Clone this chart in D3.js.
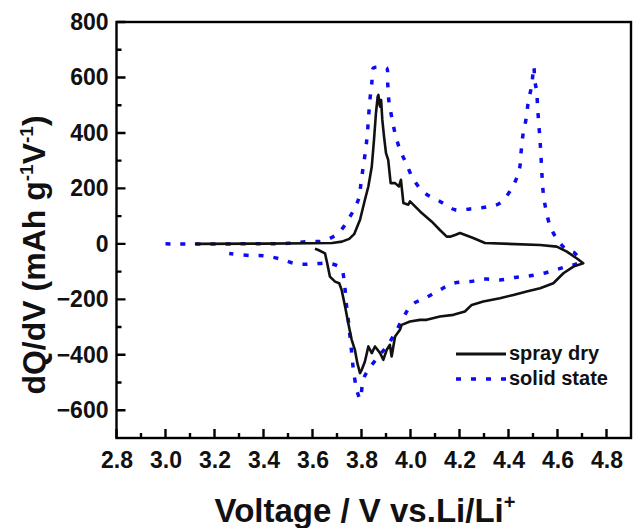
<!DOCTYPE html>
<html>
<head>
<meta charset="utf-8">
<script src="https://cdn.jsdelivr.net/npm/d3@7"></script>
<style>
  html, body { margin: 0; padding: 0; background: #fff; }
  svg text { font-family: "Liberation Sans", Arial, sans-serif; font-weight: bold; fill: #111; }
</style>
</head>
<body>
<svg id="chart" width="636" height="528"></svg>
<script>
// dQ/dV curves: spray dry vs solid state

const xTickValues = [2.8, 3.0, 3.2, 3.4, 3.6, 3.8, 4.0, 4.2, 4.4, 4.6, 4.8];
const yTickValues = [-600, -400, -200, 0, 200, 400, 600, 800];
const xMinorTicks = [2.9, 3.1, 3.3, 3.5, 3.7, 3.9, 4.1, 4.3, 4.5, 4.7];
const yMinorTicks = [-500, -300, -100, 100, 300, 500, 700];

// spray dry: charge (up to 4.7 V) then discharge back
const sprayVoltage = [3.12, 3.40, 3.60, 3.68, 3.72, 3.75, 3.77, 3.794, 3.814, 3.828, 3.842, 3.851, 3.859, 3.866, 3.869,
  3.873, 3.876, 3.880, 3.885, 3.892, 3.900, 3.909, 3.919, 3.937, 3.953, 3.961, 3.971, 3.991, 3.998, 4.039,
  4.087, 4.120, 4.148, 4.161, 4.182, 4.202, 4.256, 4.304, 4.529, 4.597, 4.638, 4.678, 4.705,
  4.665, 4.624, 4.583, 4.529, 4.474, 4.420, 4.365, 4.297, 4.250, 4.222, 4.175, 4.120, 4.066, 4.039,
  3.998, 3.964, 3.957, 3.937, 3.930, 3.923, 3.916, 3.903, 3.889, 3.876, 3.855, 3.842, 3.828, 3.814,
  3.801, 3.794, 3.783, 3.773, 3.760, 3.746, 3.733, 3.719, 3.709, 3.692, 3.671, 3.660, 3.651, 3.624, 3.610];
const sprayDqdv = [0, 1, 2, 3, 8, 18, 35, 87, 159, 207, 279, 375, 471, 531, 537,
  505, 495, 519, 447, 387, 327, 303, 219, 219, 207, 231, 147, 141, 153, 117,
  80, 50, 26, 26, 32, 39, 21, 3, -4, -10, -28, -52, -70,
  -82, -106, -142, -160, -172, -184, -196, -208, -220, -244, -256, -262, -274, -274,
  -280, -292, -310, -334, -370, -406, -364, -382, -418, -394, -370, -394, -370, -424,
  -454, -466, -430, -382, -346, -286, -226, -166, -142, -136, -118, -70, -34, -22, -18];

// solid state: charge (up to 4.69 V) then discharge back
const solidVoltage = [3.00, 3.30, 3.50, 3.578, 3.644, 3.705, 3.753, 3.787, 3.798, 3.807, 3.817, 3.824, 3.829,
  3.835, 3.842, 3.848, 3.862, 3.876, 3.890, 3.903, 3.907, 3.912, 3.923, 3.937, 3.957, 3.982, 4.013,
  4.059, 4.120, 4.182, 4.243, 4.304, 4.365, 4.417, 4.444, 4.451, 4.458, 4.471, 4.481, 4.495, 4.503,
  4.508, 4.515, 4.519, 4.524, 4.529, 4.533, 4.537, 4.542, 4.553, 4.573, 4.610, 4.638, 4.671, 4.690,
  4.624, 4.556, 4.488, 4.427, 4.365, 4.304, 4.243, 4.175, 4.120, 4.059, 4.005, 3.971, 3.937, 3.903,
  3.869, 3.828, 3.807, 3.795, 3.785, 3.778, 3.767, 3.760, 3.753, 3.746, 3.737, 3.730, 3.716, 3.665,
  3.597, 3.533, 3.470, 3.402, 3.342, 3.260];
const solidDqdv = [0, 0, 2, 8, 11, 39, 98, 159, 219, 279, 339, 399, 459,
  525, 579, 634, 637, 637, 637, 634, 579, 513, 459, 399, 339, 291, 231,
  183, 153, 123, 126, 132, 147, 207, 267, 327, 387, 447, 513, 573, 640,
  585, 549, 489, 429, 369, 309, 243, 183, 123, 57, 3, -22, -34, -64,
  -85, -103, -115, -121, -130, -127, -136, -142, -166, -196, -220, -265, -322, -370,
  -406, -454, -490, -560, -540, -515, -454, -394, -334, -274, -208, -142, -88, -70,
  -73, -72, -55, -43, -42, -35];

const legendLabels = ['spray dry', 'solid state'];

const BLUE = '#0c0cf0';
const INK = '#000';

const svg = d3.select('#chart');
const plotLeft = 116.5, plotRight = 631, plotTop = 22, plotBottom = 438;

const x = d3.scaleLinear().domain([2.8, 4.9]).range([plotLeft, plotRight]);
const y = d3.scaleLinear().domain([-700, 800]).range([plotBottom, plotTop]);

// Curves
const toPoints = (xs, ys) => xs.map((v, i) => [v, ys[i]]);

const line = d3.line()
    .x(d => x(d[0]))
    .y(d => y(d[1]));

svg.append('path')
    .datum(toPoints(solidVoltage, solidDqdv))
    .attr('d', line.curve(d3.curveCatmullRom.alpha(0.5)))
    .attr('fill', 'none')
    .attr('stroke', BLUE)
    .attr('stroke-width', 3.5)
    .attr('stroke-dasharray', '5,10');

svg.append('path')
    .datum(toPoints(sprayVoltage, sprayDqdv))
    .attr('d', line.curve(d3.curveLinear))
    .attr('fill', 'none')
    .attr('stroke', '#111')
    .attr('stroke-width', 2.6)
    .attr('stroke-linejoin', 'round');

// Axes: labels from d3 axes, inward ticks drawn as one path
const xAxis = svg.append('g').attr('transform', `translate(0,${plotBottom})`);
xAxis.call(d3.axisBottom(x).tickValues(xTickValues).tickSize(0).tickFormat(d3.format('.1f')))
    .call(g => g.select('.domain').remove());
xAxis.selectAll('.tick text').attr('font-size', 23).attr('y', 30).attr('dy', null);

const yAxis = svg.append('g').attr('transform', `translate(${plotLeft},0)`);
yAxis.call(d3.axisLeft(y).tickValues(yTickValues).tickSize(0))
    .call(g => g.select('.domain').remove());
yAxis.selectAll('.tick text').attr('font-size', 23).attr('x', -8);

svg.selectAll('.tick text')
    .attr('font-family', '"Liberation Sans", Arial, sans-serif')
    .attr('font-weight', 'bold')
    .attr('fill', '#111');

const tickPath = d3.path();
xTickValues.forEach(v => { tickPath.moveTo(x(v), plotBottom); tickPath.lineTo(x(v), plotBottom - 9); });
xMinorTicks.forEach(v => { tickPath.moveTo(x(v), plotBottom); tickPath.lineTo(x(v), plotBottom - 5); });
yTickValues.forEach(v => { tickPath.moveTo(plotLeft, y(v)); tickPath.lineTo(plotLeft + 9, y(v)); });
yMinorTicks.forEach(v => { tickPath.moveTo(plotLeft, y(v)); tickPath.lineTo(plotLeft + 5, y(v)); });

svg.append('path')
    .attr('d', tickPath.toString())
    .attr('fill', 'none')
    .attr('stroke', INK)
    .attr('stroke-width', 2.4);

// Frame
svg.append('rect')
    .attr('x', plotLeft).attr('y', plotTop)
    .attr('width', plotRight - plotLeft).attr('height', plotBottom - plotTop)
    .attr('fill', 'none').attr('stroke', INK).attr('stroke-width', 2.4);

// Axis titles
const xTitle = svg.append('text')
    .attr('x', 365).attr('y', 522)
    .attr('text-anchor', 'middle')
    .attr('font-size', 33);
xTitle.append('tspan').text('Voltage / V vs.Li/Li');
xTitle.append('tspan').attr('font-size', 20).attr('dy', -13).text('+');

const yTitle = svg.append('text')
    .attr('transform', 'translate(45,255) rotate(-90)')
    .attr('text-anchor', 'middle')
    .attr('font-size', 32);
yTitle.append('tspan').text('dQ/dV (mAh g');
yTitle.append('tspan').attr('font-size', 19).attr('dy', -12).text('-1');
yTitle.append('tspan').attr('dy', 12).text('V');
yTitle.append('tspan').attr('font-size', 19).attr('dy', -12).text('-1');
yTitle.append('tspan').attr('dy', 12).text(')');

// Legend
const legend = svg.append('g');
const legendRows = [
  { label: legendLabels[0], stroke: '#111', dash: null, width: 3, y: 354 },
  { label: legendLabels[1], stroke: BLUE, dash: '5,10', width: 3.5, y: 379 }
];
legendRows.forEach(r => {
  legend.append('line')
      .attr('x1', 456).attr('x2', 506).attr('y1', r.y).attr('y2', r.y)
      .attr('stroke', r.stroke).attr('stroke-width', r.width)
      .attr('stroke-dasharray', r.dash);
  legend.append('text')
      .attr('x', 509).attr('y', r.y + 6)
      .attr('font-size', 20)
      .text(r.label);
});
</script>
</body>
</html>
